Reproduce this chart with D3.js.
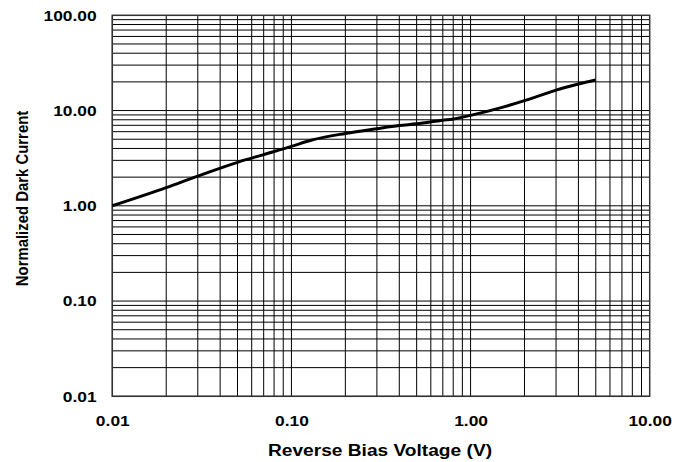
<!DOCTYPE html>
<html><head><meta charset="utf-8">
<script src="https://cdn.jsdelivr.net/npm/d3@7"></script>
<style>body{margin:0;background:#fff}svg{display:block}text{font-family:"Liberation Sans",Arial,sans-serif;font-weight:bold;fill:#000}</style>
</head><body><svg id="c" width="688" height="462"></svg>
<script>
const voltage = [0.01, 0.02, 0.03, 0.05, 0.07, 0.1, 0.13, 0.2, 0.3, 0.4, 0.5, 0.7, 0.8, 1.0, 1.5, 2.0, 2.5, 3.0, 4.0, 5.0];
const darkCurrent = [1.0, 1.55, 2.05, 2.86, 3.45, 4.2, 4.9, 5.75, 6.45, 6.95, 7.25, 7.9, 8.15, 8.9, 10.8, 12.7, 14.6, 16.4, 19.0, 20.9];
const xTicks = [0.01, 0.1, 1, 10];
const yTicks = [0.01, 0.1, 1, 10, 100];

const svg = d3.select("#c");
const L = 112.3, R = 649.7, T = 15.3, B = 396.3;
const SX = 1.13;
const x = d3.scaleLog().domain([0.01, 10]).range([L, R]);
const y = d3.scaleLog().domain([0.01, 100]).range([B, T]);

// grid
const xGrid = [], yGrid = [];
for (let d = 0.01; d < 10; d *= 10) for (let k = 1; k <= 9; k++) xGrid.push(d * k);
for (let d = 0.01; d < 100; d *= 10) for (let k = 1; k <= 9; k++) yGrid.push(d * k);
svg.append("g").selectAll("line").data(xGrid).join("line")
  .attr("x1", d => x(d)).attr("x2", d => x(d)).attr("y1", T).attr("y2", B)
  .attr("stroke", "#000").attr("stroke-width", 1);
svg.append("g").selectAll("line").data(yGrid).join("line")
  .attr("y1", d => y(d)).attr("y2", d => y(d)).attr("x1", L).attr("x2", R)
  .attr("stroke", "#000").attr("stroke-width", 1);
svg.append("rect").attr("x", L).attr("y", T).attr("width", R - L).attr("height", B - T)
  .attr("fill", "none").attr("stroke", "#333").attr("stroke-width", 1.5);

// axes labels
const fmt = d3.format(".2f");
const xa = d3.axisBottom(x).tickValues(xTicks).tickFormat(fmt).tickSize(0).tickPadding(18.5);
const ga = svg.append("g").attr("transform", `translate(0,${B})`).call(xa);
ga.select(".domain").remove();
ga.selectAll("text").attr("font-size", 15.4).attr("font-family", null).attr("fill", "#000")
  .attr("transform", `scale(${SX},1)`);
const ya = d3.axisLeft(y).tickValues(yTicks).tickFormat(fmt).tickSize(0).tickPadding(13.8);
const gy = svg.append("g").attr("transform", `translate(${L},0)`).call(ya);
gy.select(".domain").remove();
gy.selectAll("text").attr("font-size", 15.4).attr("font-family", null).attr("fill", "#000")
  .attr("transform", `scale(${SX},1)`);

svg.append("text").attr("transform", `translate(380,456) scale(1.14,1)`).attr("text-anchor", "middle")
  .attr("font-size", 16.8).text("Reverse Bias Voltage (V)");
svg.append("text").attr("transform", "translate(28.3,198.5) scale(1.14,1) rotate(-90)").attr("text-anchor", "middle")
  .attr("font-size", 14.9).text("Normalized Dark Current");

// curve
const line = d3.line().x((d, i) => x(voltage[i])).y(d => y(d)).curve(d3.curveMonotoneX);
svg.append("path").datum(darkCurrent).attr("d", line)
  .attr("fill", "none").attr("stroke", "#000").attr("stroke-width", 3);
</script></body></html>
